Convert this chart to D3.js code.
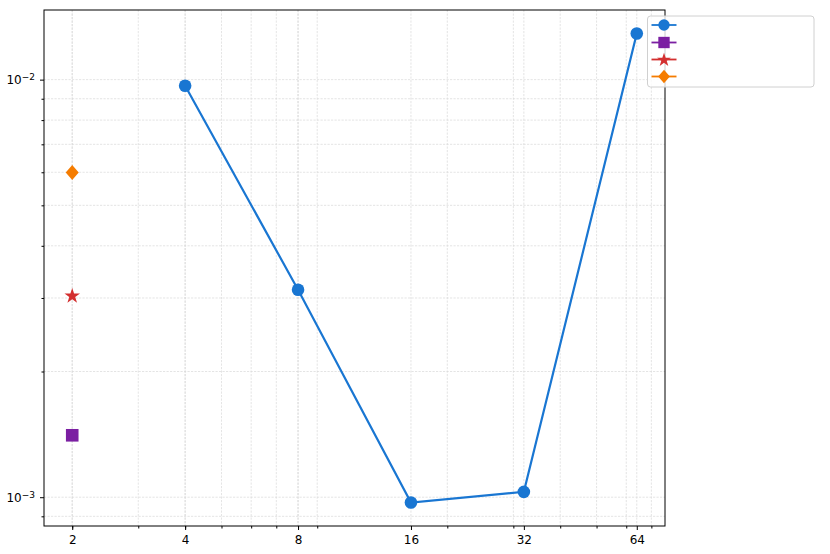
<!DOCTYPE html>
<html><head><meta charset="utf-8">
<script src="https://cdn.jsdelivr.net/npm/d3@7"></script>
<style>body{margin:0;background:#fff}svg{display:block;font-family:"DejaVu Sans",sans-serif}</style>
</head><body><svg id="c" width="830" height="554"></svg>
<script>
// data
const xTicks = [2, 4, 8, 16, 32, 64];
const blueX = [4, 8, 16, 32, 64];
const blueY = [0.00967, 0.00314, 0.000971, 0.00103, 0.0129];
const purpleX = [2], purpleY = [0.001407];
const redX = [2], redY = [0.00304];
const orangeX = [2], orangeY = [0.00599];
const yMajor = [0.001, 0.01];
const yMajorExp = [-3, -2];

const colors = {blue: "#1976D2", purple: "#7B1FA2", red: "#D32F2F", orange: "#F57C00"};

const svg = d3.select("#c");
const L = 44, R = 665, T = 10, B = 526;
const x = d3.scaleLog().domain([2 / Math.pow(2, 0.25), 64 * Math.pow(2, 0.25)]).range([L, R]);
const yAll = blueY.concat(purpleY, redY, orangeY);
const ly0 = Math.log10(d3.min(yAll)), ly1 = Math.log10(d3.max(yAll)), m = (ly1 - ly0) * 0.05;
const y = d3.scaleLog().domain([Math.pow(10, ly0 - m), Math.pow(10, ly1 + m)]).range([B, T]);

// minor ticks
const xMinor = [];
[1, 10].forEach(p => { for (let s = 2; s <= 9; s++) { const v = s * p; if (v > x.domain()[0] && v < x.domain()[1]) xMinor.push(v); } });
const yMinor = [];
[1e-4, 1e-3, 1e-2].forEach(p => { for (let s = 2; s <= 9; s++) { const v = s * p; if (v > y.domain()[0] && v < y.domain()[1]) yMinor.push(v); } });

const grid = svg.append("g");
const gridStyle = sel => sel.attr("stroke", "#d8d8d8").attr("stroke-width", 0.7).attr("stroke-dasharray", "2.2,1.3");
xMinor.concat(xTicks).forEach(v => gridStyle(grid.append("line").attr("x1", x(v)).attr("x2", x(v)).attr("y1", T).attr("y2", B)));
yMinor.concat(yMajor).forEach(v => gridStyle(grid.append("line").attr("x1", L).attr("x2", R).attr("y1", y(v)).attr("y2", y(v))));

// axes
const xAxis = d3.axisBottom(x).tickValues(xTicks).tickFormat(d3.format("d")).tickSize(4).tickPadding(5);
const gx = svg.append("g").attr("transform", `translate(0,${B})`).call(xAxis);
gx.select(".domain").remove();
gx.selectAll("text").attr("font-size", 12).attr("fill", "#000").attr("font-family", "DejaVu Sans");
gx.selectAll("line").attr("stroke", "#000");
const gxm = svg.append("g").attr("transform", `translate(0,${B})`).call(d3.axisBottom(x).tickValues(xMinor).tickSize(2.5).tickFormat(""));
gxm.select(".domain").remove(); gxm.selectAll("line").attr("stroke", "#000");

const yAxis = d3.axisLeft(y).tickValues(yMajor).tickSize(4).tickPadding(5).tickFormat("");
const gy = svg.append("g").attr("transform", `translate(${L},0)`).call(yAxis);
gy.select(".domain").remove(); gy.selectAll("line").attr("stroke", "#000");
gy.selectAll(".tick").each(function(d, i) {
  const t = d3.select(this).append("text").attr("x", -9).attr("dy", "0.35em").attr("text-anchor", "end")
    .attr("font-size", 12).attr("fill", "#000").attr("font-family", "DejaVu Sans");
  t.append("tspan").text("10");
  t.append("tspan").attr("dy", "-0.45em").attr("font-size", 9).text("\u2212" + Math.abs(yMajorExp[i]));
});
const gym = svg.append("g").attr("transform", `translate(${L},0)`).call(d3.axisLeft(y).tickValues(yMinor).tickSize(2.5).tickFormat(""));
gym.select(".domain").remove(); gym.selectAll("line").attr("stroke", "#000");

// frame
svg.append("rect").attr("x", L).attr("y", T).attr("width", R - L).attr("height", B - T)
  .attr("fill", "none").attr("stroke", "#000").attr("stroke-width", 1);

// markers
const diamond = "M0,-7.5L6.5,0L0,7.5L-6.5,0Z";
function drawMarker(g, type, cx, cy, col, s) {
  s = s || 1;
  if (type === "circle") g.append("circle").attr("cx", cx).attr("cy", cy).attr("r", 6.3 * s).attr("fill", col);
  else if (type === "square") g.append("rect").attr("x", cx - 6.3 * s).attr("y", cy - 6.3 * s).attr("width", 12.6 * s).attr("height", 12.6 * s).attr("fill", col);
  else if (type === "star") g.append("path").attr("d", d3.symbol().type(d3.symbolStar).size(75 * s * s)()).attr("transform", `translate(${cx},${cy + 0.5})`).attr("fill", col);
  else if (type === "diamond") g.append("path").attr("d", diamond).attr("transform", `translate(${cx},${cy}) scale(${s})`).attr("fill", col);
}

const plot = svg.append("g");
const line = d3.line().x(d => x(d[0])).y(d => y(d[1]));
const bluePts = blueX.map((v, i) => [v, blueY[i]]);
plot.append("path").attr("d", line(bluePts)).attr("fill", "none").attr("stroke", colors.blue).attr("stroke-width", 2.2);
bluePts.forEach(p => drawMarker(plot, "circle", x(p[0]), y(p[1]), colors.blue));
purpleX.forEach((v, i) => drawMarker(plot, "square", x(v), y(purpleY[i]), colors.purple));
redX.forEach((v, i) => drawMarker(plot, "star", x(v), y(redY[i]), colors.red));
orangeX.forEach((v, i) => drawMarker(plot, "diamond", x(v), y(orangeY[i]), colors.orange));

// legend
const lg = svg.append("g");
lg.append("rect").attr("x", 647.5).attr("y", 16).attr("width", 166.5).attr("height", 71).attr("rx", 3)
  .attr("fill", "#fff").attr("fill-opacity", 0.8).attr("stroke", "#d0d0d0").attr("stroke-width", 1);
const items = [["circle", colors.blue, 25], ["square", colors.purple, 42.5], ["star", colors.red, 59.5], ["diamond", colors.orange, 76.5]];
items.forEach(it => {
  lg.append("line").attr("x1", 651.5).attr("x2", 676.5).attr("y1", it[2]).attr("y2", it[2]).attr("stroke", it[1]).attr("stroke-width", 1.8);
  drawMarker(lg, it[0], 664, it[2], it[1], 0.9);
  lg.append("text").attr("x", 684).attr("y", it[2]).attr("dy", "0.35em").attr("font-size", 12).text("");
});
</script></body></html>
